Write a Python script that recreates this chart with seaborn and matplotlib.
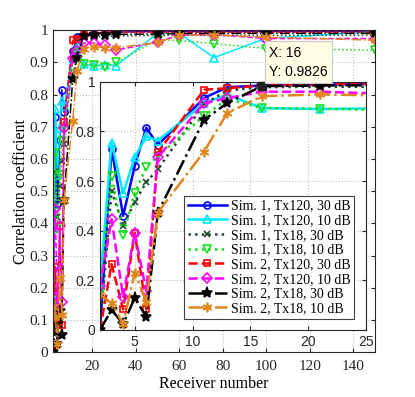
import pandas as pd
import matplotlib
matplotlib.use('Agg')
import matplotlib.pyplot as plt
import seaborn as sns
from matplotlib.ticker import FuncFormatter

# receiver numbers
rx = [2, 3, 4, 5, 6, 7, 11, 13, 16, 21, 26, 31, 50, 60, 76, 100, 150]

s1_tx120_30 = [0.0, 0.73, 0.46, 0.66, 0.815, 0.745, 0.935, 0.978, 0.985, 0.988, 0.992, 0.994, 0.996, 0.996, 0.996, 0.996, 0.996]
s1_tx120_10 = [0.18, 0.755, 0.55, 0.695, 0.78, 0.763, 0.914, 0.948, 0.894, 0.89, 0.893, 0.89, 0.99, 0.99, 0.915, 0.975, 0.995]
s1_tx18_30 = [0.0, 0.56, 0.42, 0.515, 0.595, 0.648, 0.91, 0.965, 0.978, 0.98, 0.98, 0.982, 0.984, 0.984, 0.984, 0.984, 0.984]
s1_tx18_10 = [0.15, 0.62, 0.383, 0.551, 0.656, 0.70, 0.863, 0.93, 0.894, 0.892, 0.886, 0.9, 0.97, 0.968, 0.958, 0.943, 0.938]
s2_tx120_30 = [0.0, 0.265, 0.083, 0.392, 0.083, 0.715, 0.968, 0.974, 0.985, 0.99, 0.993, 0.994, 0.994, 0.994, 0.994, 0.994, 0.994]
s2_tx120_10 = [0.175, 0.446, 0.134, 0.392, 0.155, 0.696, 0.914, 0.934, 0.96, 0.96, 0.953, 0.938, 0.963, 0.985, 0.986, 0.974, 0.974]
s2_tx18_30 = [0.0, 0.081, 0.024, 0.128, 0.054, 0.473, 0.847, 0.914, 0.9826, 0.985, 0.986, 0.987, 0.988, 0.99, 0.99, 0.99, 0.99]
s2_tx18_10 = [0.14, 0.108, 0.024, 0.231, 0.114, 0.473, 0.719, 0.874, 0.942, 0.949, 0.945, 0.945, 0.962, 0.984, 0.985, 0.978, 0.969]

labels = ['Sim. 1, Tx120, 30 dB', 'Sim. 1, Tx120, 10 dB', 'Sim. 1, Tx18, 30 dB', 'Sim. 1, Tx18, 10 dB',
          'Sim. 2, Tx120, 30 dB', 'Sim. 2, Tx120, 10 dB', 'Sim. 2, Tx18, 30 dB', 'Sim. 2, Tx18, 10 dB']
series = [s1_tx120_30, s1_tx120_10, s1_tx18_30, s1_tx18_10, s2_tx120_30, s2_tx120_10, s2_tx18_30, s2_tx18_10]

tip_x = 16
tip_label = 'Sim. 2, Tx18, 30 dB'

# color, linestyle, marker, filled, markersize
styles = [
    ('#0000ff', '-', 'o', False, 5),
    ('#00e8ff', '-', '^', False, 6),
    ('#1f4a2a', ':', 'x', False, 5),
    ('#16e016', ':', 'v', False, 6),
    ('#ff0000', '--', 's', False, 5),
    ('#ff00ff', '--', 'D', False, 5),
    ('#000000', '-.', '*', True, 8),
    ('#e0861c', '-.', (6, 2, 0), True, 7),
]

df = pd.DataFrame({'rx': rx * len(series),
                   'corr': sum(series, []),
                   'name': sum([[l] * len(rx) for l in labels], [])})

plt.rcParams['font.family'] = ['Liberation Serif', 'DejaVu Serif']
plt.rcParams['xtick.direction'] = 'in'
plt.rcParams['ytick.direction'] = 'in'

fig = plt.figure(figsize=(4.15, 3.97), dpi=100)
ax = fig.add_axes([0.128, 0.113, 0.776, 0.811])
axi = fig.add_axes([0.241, 0.169, 0.641, 0.625])


def draw(a, lw, legend_lab):
    for lab, (c, ls, mk, filled, ms) in zip(labels, styles):
        d = df[df['name'] == lab]
        sns.lineplot(data=d, x='rx', y='corr', ax=a, color=c, linestyle=ls, lw=lw,
                     marker=mk, markersize=ms, markeredgecolor=c, markeredgewidth=1.2,
                     markerfacecolor=c if filled else 'none', legend=False,
                     label=lab if legend_lab else None, clip_on=True)


draw(ax, 1.1, False)
draw(axi, 1.8, True)

fmt = FuncFormatter(lambda v, p: '%g' % round(v, 2))

ax.set_xlim(2, 150)
ax.set_ylim(0, 1)
ax.set_xticks([20, 40, 60, 80, 100, 120, 140])
ax.set_yticks([i / 10 for i in range(11)])
ax.yaxis.set_major_formatter(fmt)
ax.tick_params(labelsize=11, length=3, top=True, right=True, colors='#262626')
ax.tick_params(axis='x', pad=6)
ax.grid(True, linestyle=':', color='#c0c0c0', lw=0.8)
ax.set_xlabel('Receiver number', fontsize=11.5, labelpad=2)
ax.set_ylabel('Correlation coefficient', fontsize=11.5, labelpad=0)
for s in ax.spines.values():
    s.set_color('#262626')

axi.set_xlim(2, 25)
axi.set_ylim(0, 1)
axi.set_xticks([5, 10, 15, 20, 25])
axi.set_yticks([0, 0.2, 0.4, 0.6, 0.8, 1])
axi.yaxis.set_major_formatter(fmt)
axi.tick_params(labelsize=10, length=3, top=True, right=True, colors='#262626')
for t in axi.get_xticklabels() + axi.get_yticklabels():
    t.set_family(['Liberation Sans', 'DejaVu Sans'])
axi.grid(True, linestyle=':', color='#c0c0c0', lw=0.8)
axi.set_xlabel('')
axi.set_ylabel('')
for s in axi.spines.values():
    s.set_color('#262626')

leg = axi.legend(loc='lower right', bbox_to_anchor=(0.955, 0.045), fontsize=10, handlelength=2.8,
                 borderpad=0.25, labelspacing=0.12, handletextpad=0.3, borderaxespad=0,
                 fancybox=False, framealpha=1, edgecolor='#404040')
leg.get_frame().set_linewidth(0.8)

# data tip
tip_y = df[(df['name'] == tip_label) & (df['rx'] == tip_x)]['corr'].iloc[0]
axi.plot(tip_x, tip_y, 's', color='#202020', ms=6, zorder=10, clip_on=False)
axi.annotate('X: %g\nY: %.4f' % (tip_x, tip_y), xy=(tip_x, tip_y), xytext=(5, 5),
             textcoords='offset points', ha='left', va='bottom', fontsize=10,
             family=['Liberation Sans', 'DejaVu Sans'], linespacing=1.5, annotation_clip=False, zorder=11,
             bbox=dict(boxstyle='square,pad=0.3', fc='#ffffe6', ec='#c8c8c8', lw=0.8))

fig.savefig('out.png', dpi=100)
